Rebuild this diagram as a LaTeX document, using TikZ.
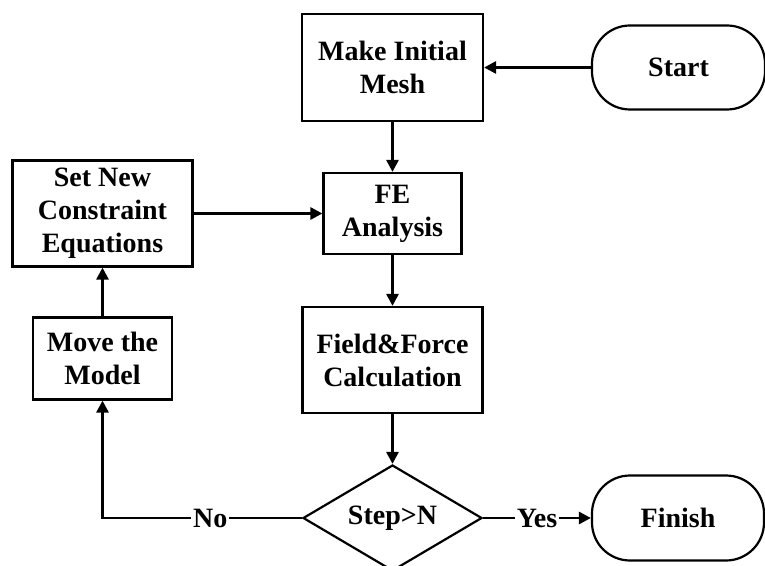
\documentclass[tikz,border=0pt]{standalone}
\usepackage{fontspec}
\setmainfont{Liberation Serif}
\usetikzlibrary{shapes.geometric, arrows.meta, positioning}

\begin{document}
\begin{tikzpicture}[>={Triangle[length=6pt,width=6pt]}, line width=1.4pt,
    box/.style={draw, line width=1.1pt, align=center, inner sep=0pt},
    term/.style={box, rounded corners=19pt},
    decision/.style={draw, line width=1.1pt, diamond, aspect=1.69, inner sep=0pt},
    font=\bfseries\fontsize{14pt}{16.5pt}\selectfont]
    \useasboundingbox (0,0) rectangle (382.5pt,-283pt);

    % Main column
    \node[box, minimum width=90.5pt, minimum height=53.5pt] (mesh) at (196.25pt,-33.75pt) {Make Initial\\Mesh};
    \node[box, minimum width=69pt, minimum height=40.5pt] (fe) [below of=mesh, node distance=73pt] {FE\\Analysis};
    \node[box, minimum width=90pt, minimum height=53pt] (field) [below of=fe, node distance=73.25pt] {Field\&Force\\Calculation};
    \node[decision, minimum width=89.5pt, minimum height=53pt] (dec) [below of=field, node distance=79pt] {Step>N};

    % Terminals
    \node[term, minimum width=86.5pt, minimum height=42pt] (start) [right of=mesh, node distance=143pt] {Start};
    \node[term, minimum width=86pt, minimum height=42.5pt] (finish) [right of=dec, node distance=142.75pt] {Finish};

    % Loop back
    \node[box, minimum width=90pt, minimum height=53pt] (set) [left of=fe, node distance=145pt] {Set New\\Constraint\\Equations};
    \node[box, minimum width=69.5pt, minimum height=41pt] (move) [below of=set, node distance=72.5pt] {Move the\\Model};

    % Flow
    \path[->]
    (start) edge (mesh)
    (mesh) edge (fe)
    (set) edge (fe)
    (fe) edge (field)
    (field) edge (dec)
    (move) edge (set);

    % Decision branches
    \draw[->] (dec) -| node[pos=0.23, fill=white, inner sep=1pt] {No} (move);
    \draw[->] (dec) -- node[fill=white, inner sep=1pt] {Yes} (finish);
\end{tikzpicture}
\end{document}
